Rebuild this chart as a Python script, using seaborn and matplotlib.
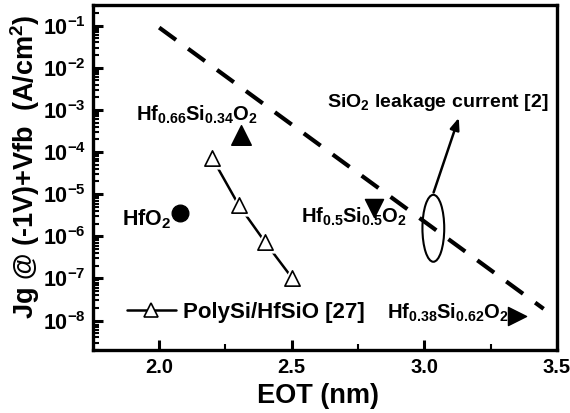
import numpy as np
import pandas as pd
import matplotlib
matplotlib.use("Agg")
import matplotlib.pyplot as plt
import seaborn as sns
from matplotlib.patches import Ellipse
from matplotlib.lines import Line2D
from matplotlib.ticker import FixedLocator, NullFormatter, LogFormatterSciNotation

sns.set_theme(style="ticks")
plt.rcParams['font.family'] = ['Liberation Sans', 'DejaVu Sans']
plt.rcParams['font.weight'] = 'bold'
plt.rcParams['mathtext.fontset'] = 'custom'
plt.rcParams['mathtext.rm'] = 'Liberation Sans:bold'
plt.rcParams['mathtext.it'] = 'Liberation Sans:bold'
plt.rcParams['mathtext.bf'] = 'Liberation Sans:bold'
plt.rcParams['mathtext.sf'] = 'Liberation Sans:bold'
plt.rcParams['mathtext.default'] = 'rm'
for k in ['text.color', 'axes.labelcolor', 'xtick.color', 'ytick.color',
          'xtick.labelcolor', 'ytick.labelcolor', 'axes.edgecolor']:
    plt.rcParams[k] = 'black'

# ---- data ----
sio2_eot = [2.0, 3.45]
sio2_jg = [9e-2, 1.9e-8]
poly_eot = [2.2, 2.3, 2.4, 2.5]
poly_jg = [7.2e-5, 5.5e-6, 7.2e-7, 1.05e-7]
hfo2_eot = [2.08]
hfo2_jg = [3.5e-6]
hf66_eot = [2.31]
hf66_jg = [2.5e-4]
hf50_eot = [2.81]
hf50_jg = [4.7e-6]
hf38_eot = [3.35]
hf38_jg = [1.3e-8]
x_ticks = [2.0, 2.5, 3.0, 3.5]
x_ticklabels = ["2.0", "2.5", "3.0", "3.5"]
x_minor = [2.25, 2.75, 3.25]
y_decades = [-8, -7, -6, -5, -4, -3, -2, -1]

fig = plt.figure(figsize=(5.7, 4.13), dpi=100)
ax = fig.add_axes([0.163, 0.1525, 0.814, 0.8355])
ax.set_yscale('log')
ax.set_xlim(1.75, 3.5)
ax.set_ylim(2e-9, 0.31)

# SiO2 dashed reference line
sns.lineplot(x=sio2_eot, y=sio2_jg, ax=ax, color='black', lw=3,
             linestyle=(0, (5, 3.6)), dash_capstyle='butt', zorder=2)

# PolySi/HfSiO series
sns.lineplot(x=poly_eot, y=poly_jg, ax=ax, color='black', lw=1.8, zorder=2)
sns.scatterplot(x=poly_eot, y=poly_jg, ax=ax, marker='^', s=13**2,
                color='white', edgecolor='white', linewidth=3, zorder=3)
sns.scatterplot(x=poly_eot, y=poly_jg, ax=ax, marker='^', s=11**2,
                color='white', edgecolor='black', linewidth=1.2, zorder=4)

# single points
sns.scatterplot(x=hfo2_eot, y=hfo2_jg, ax=ax, marker='o', s=12**2,
                color='black', edgecolor='black', zorder=5)
sns.scatterplot(x=hf66_eot, y=hf66_jg, ax=ax, marker='^', s=14**2,
                color='black', edgecolor='black', zorder=5)
sns.scatterplot(x=hf50_eot, y=hf50_jg, ax=ax, marker='v', s=13**2,
                color='black', edgecolor='black', zorder=5)
sns.scatterplot(x=hf38_eot, y=hf38_jg, ax=ax, marker='>', s=13**2,
                color='black', edgecolor='black', zorder=5)

# labels
fs = 14.5
ax.text(2.37, 5.7e-4, r'Hf$_{0.66}$Si$_{0.34}$O$_2$', ha='right', va='baseline',
        fontsize=fs, fontweight='bold')
ax.text(2.045, 1.8e-6, r'HfO$_2$', ha='right', va='baseline', fontsize=15.5, fontweight='bold')
ax.text(2.535, 2.05e-6, r'Hf$_{0.5}$Si$_{0.5}$O$_2$', ha='left', va='baseline',
        fontsize=fs, fontweight='bold')
ax.text(3.318, 1.1e-8, r'Hf$_{0.38}$Si$_{0.62}$O$_2$', ha='right', va='baseline',
        fontsize=fs, fontweight='bold')
ax.text(2.633, 1.2e-3, r'SiO$_2$ leakage current [2]', ha='left', va='baseline',
        fontsize=14, fontweight='bold')

# ellipse + arrow
cx, cy = ax.transAxes.inverted().transform(ax.transData.transform((3.034, 1.55e-6)))
ax.add_patch(Ellipse((cx, cy), 0.047, 0.194, transform=ax.transAxes,
                     facecolor='none', edgecolor='black', lw=1.5, zorder=6))
ax.annotate('', xy=(3.13, 6.5e-4), xytext=(3.035, 1.1e-5),
            arrowprops=dict(arrowstyle='-|>,head_length=0.5,head_width=0.2', color='black',
                            lw=1.8, mutation_scale=14, shrinkA=0, shrinkB=0))

# legend
h = Line2D([], [], color='black', lw=1.8, marker='^', ms=10,
           mfc='white', mec='black', mew=1.2)
ax.legend([h], ['PolySi/HfSiO [27]'], loc='center left', bbox_to_anchor=(0.073, 0.11),
          frameon=False, handlelength=2.2, handletextpad=0.35,
          borderpad=0, borderaxespad=0, prop={'weight': 'bold', 'size': 16})

# axes styling
ax.xaxis.set_major_locator(FixedLocator(x_ticks))
ax.set_xticklabels(x_ticklabels)
ax.xaxis.set_minor_locator(FixedLocator(x_minor))
ax.xaxis.set_minor_formatter(NullFormatter())
y_major = [10.0 ** d for d in y_decades]
y_minor = [m * 10.0 ** d for d in range(-9, 0) for m in range(2, 10)
           if 2e-9 <= m * 10.0 ** d <= 0.31]
ax.yaxis.set_major_locator(FixedLocator(y_major))
ax.yaxis.set_major_formatter(LogFormatterSciNotation())
ax.yaxis.set_minor_locator(FixedLocator(y_minor))
ax.yaxis.set_minor_formatter(NullFormatter())
ax.tick_params(which='major', direction='in', length=7, width=2.2,
               left=True, bottom=True, right=False, top=False,
               color='black', labelcolor='black', pad=5)
ax.tick_params(axis='x', which='major', labelsize=14.5, pad=6)
ax.tick_params(axis='y', which='major', labelsize=15.5, pad=5)
ax.tick_params(which='minor', direction='in', length=4, width=1.5,
               left=True, bottom=True, right=False, top=False, color='black')
for lab in ax.get_xticklabels() + ax.get_yticklabels():
    lab.set_fontweight('bold')
for sp in ax.spines.values():
    sp.set_visible(True)
    sp.set_linewidth(2.4)
    sp.set_color('black')

ax.set_xlabel('EOT (nm)', fontsize=19.5, fontweight='bold', color='black')
ax.set_ylabel(r'Jg @ (-1V)+Vfb  (A/cm$^2$)', fontsize=19.5, fontweight='bold', color='black')
ax.xaxis.set_label_coords(0.485, -0.095)
ax.yaxis.set_label_coords(-0.11, 0.53)

fig.savefig('out.png', dpi=100)
